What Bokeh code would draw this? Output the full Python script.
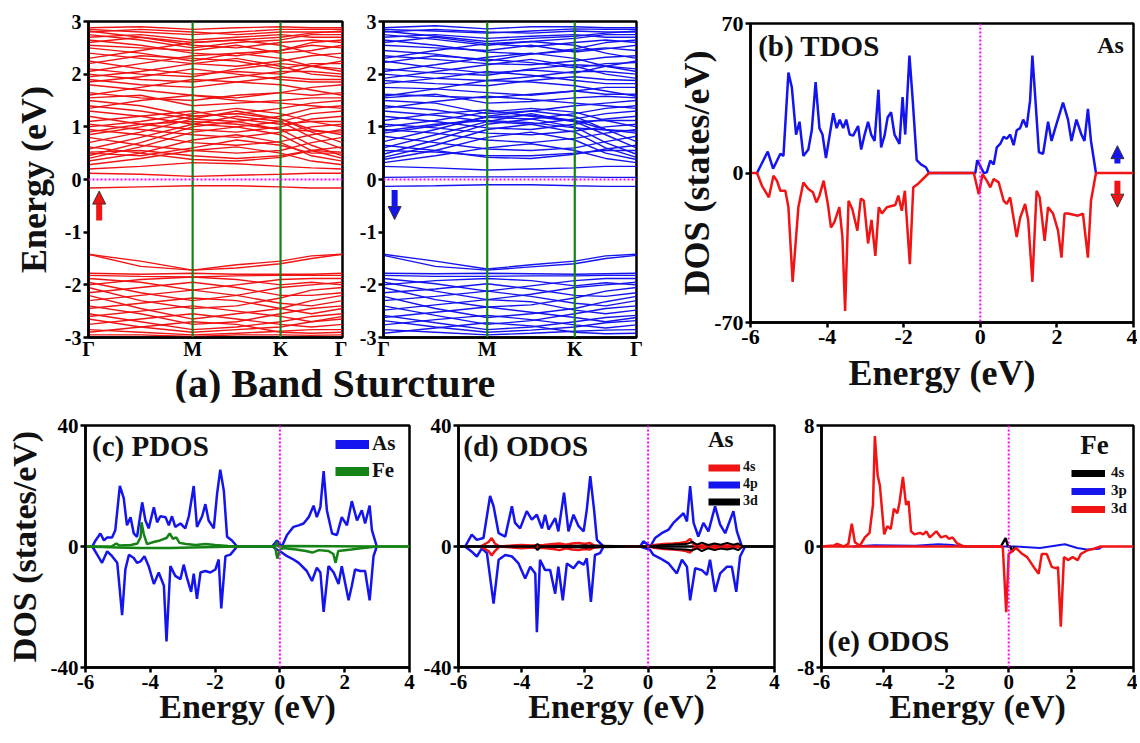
from bokeh.plotting import figure
from bokeh.layouts import row, column
from bokeh.models import (Range1d, FixedTicker, Span, Label, Legend, LegendItem,
                          Arrow, NormalHead, Div, ColumnDataSource)
from bokeh.embed import file_html
from bokeh.resources import INLINE

FONT = "Liberation Serif"
NAN = float("nan")

# ---------------- (a) band structure ----------------
kpath = [0.0, 0.205, 0.41, 0.583, 0.756, 0.878, 1.0]
k_ticks = [0.0, 0.41, 0.756, 1.0]
k_labels = ["Γ", "M", "K", "Γ"]
e_ticks = [-3, -2, -1, 0, 1, 2, 3]
dos_xticks = [-6, -4, -2, 0, 2, 4]

bands_up = [
    [-0.16, -0.14, -0.12, -0.12, -0.14, -0.16, -0.16],
    [0.12, 0.10, 0.06, 0.08, 0.10, 0.12, 0.12],
    [0.20, 0.25, 0.32, 0.30, 0.25, 0.22, 0.20],
    [0.28, 0.40, 0.55, 0.62, 0.50, 0.35, 0.28],
    [0.35, 0.50, 0.75, 0.85, 0.70, 0.45, 0.35],
    [0.40, 0.62, 0.90, 1.00, 0.85, 0.55, 0.40],
    [0.45, 0.70, 1.00, 1.10, 0.95, 0.65, 0.45],
    [0.50, 0.45, 0.60, 0.75, 0.65, 0.50, 0.50],
    [0.52, 0.55, 0.45, 0.40, 0.45, 0.55, 0.52],
    [0.58, 0.80, 1.05, 1.20, 1.10, 0.80, 0.58],
    [0.62, 0.50, 0.38, 0.35, 0.42, 0.55, 0.62],
    [0.70, 0.90, 1.15, 1.30, 1.15, 0.90, 0.70],
    [0.80, 0.65, 0.55, 0.50, 0.55, 0.70, 0.80],
    [0.85, 1.00, 1.20, 1.25, 1.15, 0.95, 0.85],
    [0.90, 1.05, 1.10, 1.05, 0.95, 0.92, 0.90],
    [0.95, 0.85, 0.70, 0.65, 0.72, 0.85, 0.95],
    [1.00, 1.10, 1.25, 1.35, 1.25, 1.10, 1.00],
    [1.05, 0.95, 0.85, 0.80, 0.90, 1.00, 1.05],
    [1.10, 1.20, 1.30, 1.15, 1.05, 1.10, 1.10],
    [1.20, 1.05, 0.95, 0.90, 1.00, 1.15, 1.20],
    [1.30, 1.20, 1.05, 1.00, 1.10, 1.25, 1.30],
    [1.35, 1.50, 1.60, 1.50, 1.45, 1.40, 1.35],
    [1.40, 1.30, 1.15, 1.10, 1.20, 1.35, 1.40],
    [1.50, 1.40, 1.20, 1.25, 1.35, 1.45, 1.50],
    [1.55, 1.60, 1.40, 1.45, 1.50, 1.55, 1.55],
    [1.60, 1.75, 1.90, 1.85, 1.80, 1.70, 1.60],
    [1.65, 1.55, 1.50, 1.60, 1.65, 1.60, 1.65],
    [1.80, 1.70, 1.60, 1.55, 1.65, 1.75, 1.80],
    [1.85, 1.95, 2.10, 2.00, 1.90, 1.85, 1.85],
    [1.90, 1.80, 1.75, 1.85, 1.95, 1.90, 1.90],
    [1.95, 2.05, 2.20, 2.30, 2.15, 2.00, 1.95],
    [2.00, 1.90, 1.85, 1.95, 2.05, 2.05, 2.00],
    [2.05, 2.20, 2.35, 2.40, 2.30, 2.15, 2.05],
    [2.10, 2.00, 1.95, 2.10, 2.20, 2.15, 2.10],
    [2.20, 2.35, 2.30, 2.25, 2.10, 2.20, 2.20],
    [2.25, 2.10, 2.00, 2.05, 2.00, 2.15, 2.25],
    [2.30, 2.45, 2.60, 2.65, 2.55, 2.40, 2.30],
    [2.40, 2.30, 2.20, 2.15, 2.25, 2.35, 2.40],
    [2.50, 2.40, 2.25, 2.40, 2.45, 2.55, 2.50],
    [2.55, 2.50, 2.45, 2.55, 2.40, 2.45, 2.55],
    [2.60, 2.70, 2.55, 2.50, 2.60, 2.65, 2.60],
    [2.65, 2.55, 2.40, 2.35, 2.45, 2.60, 2.65],
    [2.70, 2.75, 2.65, 2.70, 2.75, 2.70, 2.70],
    [2.75, 2.65, 2.50, 2.60, 2.65, 2.75, 2.75],
    [2.80, 2.85, 2.80, 2.75, 2.80, 2.80, 2.80],
    [2.82, 2.70, 2.60, 2.65, 2.70, 2.78, 2.82],
    [2.85, 2.80, 2.75, 2.80, 2.85, 2.85, 2.85],
    [2.88, 2.90, 2.85, 2.88, 2.90, 2.88, 2.88],
    [-1.42, -1.55, -1.72, -1.62, -1.55, -1.45, -1.42],
    [-1.42, -1.65, -1.72, -1.68, -1.60, -1.50, -1.42],
    [-1.78, -1.80, -1.78, -1.80, -1.80, -1.80, -1.78],
    [-1.82, -1.84, -1.85, -1.83, -1.82, -1.82, -1.82],
    [-1.88, -1.95, -2.10, -2.00, -1.90, -1.88, -1.88],
    [-1.95, -2.15, -2.30, -2.20, -2.05, -2.00, -1.95],
    [-2.00, -1.90, -1.85, -1.90, -2.00, -1.95, -2.00],
    [-2.05, -2.30, -2.45, -2.40, -2.25, -2.10, -2.05],
    [-2.15, -2.05, -1.95, -2.05, -2.20, -2.20, -2.15],
    [-2.20, -2.45, -2.65, -2.55, -2.45, -2.30, -2.20],
    [-2.30, -2.20, -2.10, -2.20, -2.35, -2.40, -2.30],
    [-2.40, -2.55, -2.75, -2.70, -2.55, -2.45, -2.40],
    [-2.45, -2.35, -2.25, -2.30, -2.45, -2.55, -2.45],
    [-2.55, -2.70, -2.85, -2.80, -2.70, -2.60, -2.55],
    [-2.60, -2.50, -2.40, -2.50, -2.60, -2.70, -2.60],
    [-2.65, -2.80, -2.90, -2.85, -2.80, -2.70, -2.65],
    [-2.75, -2.65, -2.55, -2.65, -2.75, -2.80, -2.75],
    [-2.85, -2.90, -2.95, -2.92, -2.88, -2.85, -2.85],
    [-2.90, -2.80, -2.70, -2.75, -2.90, -2.92, -2.90],
    [-2.95, -2.95, -2.98, -2.95, -2.95, -2.96, -2.95],
]

bands_dn = [
    [-0.13, -0.12, -0.10, -0.10, -0.12, -0.13, -0.13],
    [0.04, 0.05, 0.05, 0.05, 0.05, 0.04, 0.04],
    [0.25, 0.22, 0.18, 0.20, 0.22, 0.25, 0.25],
    [0.32, 0.45, 0.60, 0.68, 0.55, 0.40, 0.32],
    [0.38, 0.55, 0.80, 0.90, 0.75, 0.50, 0.38],
    [0.42, 0.65, 0.95, 1.05, 0.90, 0.60, 0.42],
    [0.48, 0.75, 1.05, 1.15, 1.00, 0.70, 0.48],
    [0.55, 0.52, 0.45, 0.45, 0.50, 0.55, 0.55],
    [0.60, 0.85, 1.10, 1.25, 1.10, 0.85, 0.60],
    [0.65, 0.55, 0.42, 0.40, 0.48, 0.58, 0.65],
    [0.72, 0.95, 1.20, 1.30, 1.20, 0.95, 0.72],
    [0.82, 0.70, 0.58, 0.55, 0.60, 0.72, 0.82],
    [0.88, 1.02, 1.18, 1.22, 1.12, 0.95, 0.88],
    [0.92, 1.05, 1.12, 1.08, 0.98, 0.94, 0.92],
    [0.95, 0.88, 0.75, 0.70, 0.78, 0.88, 0.95],
    [1.00, 1.12, 1.28, 1.35, 1.28, 1.12, 1.00],
    [1.05, 0.98, 0.88, 0.85, 0.92, 1.00, 1.05],
    [1.12, 1.25, 1.32, 1.20, 1.10, 1.12, 1.12],
    [1.20, 1.10, 0.98, 0.95, 1.05, 1.15, 1.20],
    [1.30, 1.22, 1.10, 1.05, 1.15, 1.25, 1.30],
    [1.35, 1.48, 1.58, 1.52, 1.45, 1.40, 1.35],
    [1.40, 1.32, 1.18, 1.15, 1.25, 1.35, 1.40],
    [1.50, 1.45, 1.25, 1.30, 1.40, 1.45, 1.50],
    [1.55, 1.62, 1.45, 1.48, 1.55, 1.58, 1.55],
    [1.58, 1.72, 1.88, 1.85, 1.78, 1.68, 1.58],
    [1.62, 1.58, 1.55, 1.62, 1.68, 1.62, 1.62],
    [1.75, 1.72, 1.65, 1.60, 1.68, 1.75, 1.75],
    [1.82, 1.92, 2.05, 1.98, 1.88, 1.82, 1.82],
    [1.88, 1.82, 1.78, 1.88, 1.95, 1.90, 1.88],
    [1.92, 2.05, 2.18, 2.28, 2.15, 2.00, 1.92],
    [2.00, 1.92, 1.88, 1.95, 2.05, 2.05, 2.00],
    [2.05, 2.18, 2.32, 2.40, 2.30, 2.15, 2.05],
    [2.10, 2.02, 1.98, 2.10, 2.18, 2.15, 2.10],
    [2.22, 2.35, 2.28, 2.22, 2.12, 2.20, 2.22],
    [2.25, 2.12, 2.02, 2.08, 2.02, 2.15, 2.25],
    [2.30, 2.45, 2.58, 2.62, 2.55, 2.40, 2.30],
    [2.35, 2.28, 2.20, 2.18, 2.25, 2.32, 2.35],
    [2.45, 2.38, 2.25, 2.38, 2.45, 2.50, 2.45],
    [2.55, 2.50, 2.45, 2.55, 2.42, 2.48, 2.55],
    [2.60, 2.70, 2.58, 2.52, 2.60, 2.65, 2.60],
    [2.65, 2.55, 2.42, 2.38, 2.48, 2.60, 2.65],
    [2.70, 2.75, 2.68, 2.72, 2.75, 2.70, 2.70],
    [2.75, 2.66, 2.55, 2.62, 2.68, 2.75, 2.75],
    [2.80, 2.85, 2.80, 2.78, 2.82, 2.80, 2.80],
    [2.82, 2.72, 2.62, 2.68, 2.72, 2.78, 2.82],
    [2.85, 2.82, 2.78, 2.82, 2.86, 2.85, 2.85],
    [2.88, 2.92, 2.86, 2.90, 2.90, 2.88, 2.88],
    [-1.42, -1.55, -1.70, -1.62, -1.55, -1.45, -1.42],
    [-1.44, -1.65, -1.72, -1.66, -1.60, -1.50, -1.44],
    [-1.78, -1.79, -1.78, -1.79, -1.80, -1.79, -1.78],
    [-1.82, -1.84, -1.84, -1.83, -1.83, -1.82, -1.82],
    [-1.88, -1.98, -2.12, -2.02, -1.92, -1.88, -1.88],
    [-1.95, -2.12, -2.28, -2.18, -2.05, -2.00, -1.95],
    [-2.00, -1.92, -1.88, -1.92, -2.02, -1.96, -2.00],
    [-2.05, -2.28, -2.42, -2.38, -2.25, -2.12, -2.05],
    [-2.15, -2.08, -1.98, -2.08, -2.20, -2.22, -2.15],
    [-2.22, -2.45, -2.62, -2.55, -2.45, -2.32, -2.22],
    [-2.30, -2.22, -2.12, -2.22, -2.35, -2.40, -2.30],
    [-2.40, -2.58, -2.75, -2.68, -2.55, -2.45, -2.40],
    [-2.48, -2.38, -2.28, -2.32, -2.48, -2.55, -2.48],
    [-2.58, -2.72, -2.85, -2.80, -2.70, -2.62, -2.58],
    [-2.62, -2.52, -2.42, -2.52, -2.62, -2.70, -2.62],
    [-2.68, -2.80, -2.90, -2.86, -2.80, -2.72, -2.68],
    [-2.76, -2.66, -2.58, -2.66, -2.76, -2.82, -2.76],
    [-2.85, -2.90, -2.95, -2.92, -2.88, -2.86, -2.85],
    [-2.92, -2.82, -2.72, -2.78, -2.90, -2.93, -2.92],
]

# ---------------- (b) TDOS ----------------
tdos_up_e = [-5.83, -5.55, -5.41, -5.22, -5.14, -5.01, -4.92, -4.81, -4.72, -4.62, -4.49, -4.40,
             -4.30, -4.20, -4.12, -4.03, -3.94, -3.84, -3.75, -3.67, -3.58, -3.50, -3.41, -3.32,
             -3.19, -3.11, -3.02, -2.93, -2.85, -2.76, -2.66, -2.59, -2.50, -2.42, -2.33, -2.24,
             -2.11, -2.03, -1.96, -1.85, -1.77, -1.66, -1.55, -1.42, -1.34, -0.13, -0.08, 0.09,
             0.17, 0.26, 0.35, 0.43, 0.52, 0.61, 0.69, 0.78, 0.87, 0.95, 1.04, 1.12, 1.21, 1.30,
             1.36, 1.44, 1.53, 1.64, 1.77, 1.86, 1.99, 2.16, 2.29, 2.38, 2.51, 2.64, 2.72, 2.81,
             2.89, 3.02]
tdos_up = [0, 10, 2, 9, 8, 47, 40, 18, 24, 8, 11, 20,
           42.6, 21, 18, 7, 17, 28, 21, 25, 21, 25, 18, 17.5,
           22, 11, 18, 24, 18, 15, 39, 12, 17.5, 26, 28.5, 18,
           13.6, 35.5, 18, 55, 35.5, 6, 4, 2.7, 0, 0, 6, 0,
           0.3, 5.8, 4, 12, 13.6, 17, 16, 18, 13, 20, 21, 25, 21.4, 34,
           55, 34, 9.7, 9, 24, 15, 23, 33, 25, 15, 25, 18, 15, 30,
           15, 0]
tdos_dn_e = [-6.0, -5.83, -5.70, -5.52, -5.40, -5.31, -5.22, -5.09, -5.01, -4.90, -4.75, -4.62,
             -4.49, -4.37, -4.28, -4.20, -4.09, -3.98, -3.90, -3.81, -3.68, -3.60, -3.53, -3.44,
             -3.34, -3.21, -3.12, -3.04, -2.93, -2.84, -2.74, -2.65, -2.57, -2.44, -2.22, -2.14,
             -2.05, -1.97, -1.84, -1.75, -1.62, -1.34, -0.17, -0.04, 0.06, 0.17, 0.26, 0.35,
             0.48, 0.61, 0.69, 0.78, 0.95, 1.04, 1.17, 1.25, 1.36, 1.47, 1.55, 1.68, 1.77, 1.90,
             2.03, 2.12, 2.20, 2.29, 2.55, 2.68, 2.81, 2.89, 3.02, 4.0]
tdos_dn = [0, 0, -6, -11.4, -1.3, -3.6, -8.3, -8.3, -16, -51, -16, -4.4,
           -7.5, -9, -13.8, -10.6, -3.6, -14.5, -25.5, -23, -16, -30, -64.6, -13,
           -17, -27, -12, -13, -33, -22, -38.8, -16, -19, -16, -15, -10.6,
           -17.7, -8.3, -42.7, -6.7, -5, 0, 0, -9.9, -0.5, -3.6, -6.7, -2.8,
           -4.4, -13, -14.5, -11.4, -30, -21, -14.5, -22, -51, -8.3, -11.4, -31.8, -16, -19,
           -27, -39.6, -19, -19, -20, -19, -39.6, -13, 0, 0]

# ---------------- (c) PDOS ----------------
as_up_e = [-5.79, -5.69, -5.54, -5.43, -5.33, -5.18, -5.08, -4.94, -4.82, -4.72, -4.61, -4.51,
           -4.41, -4.25, -4.15, -4.05, -3.89, -3.79, -3.69, -3.53, -3.43, -3.33, -3.23, -3.07,
           -2.92, -2.81, -2.66, -2.56, -2.40, -2.30, -2.20, -2.04, -1.94, -1.84, -1.73, -1.63,
           -1.48, -1.32, -0.24, -0.09, 0.06, 0.22, 0.42, 0.58, 0.73, 0.89, 1.04, 1.14, 1.25,
           1.35, 1.45, 1.61, 1.76, 1.91, 2.07, 2.22, 2.38, 2.53, 2.63, 2.77, 2.84, 2.99]
as_up = [0, 2, 4.3, 2, 3, 3, 5.4, 20, 16, 7, 9.7, 4.3,
         3.2, 14.6, 8.6, 6, 13, 8, 10, 9.7, 7, 10, 6.5, 7.6,
         6, 10, 20, 6.5, 10, 14, 8.6, 6, 17.3, 25.4, 18.4, 3.2,
         2, 0, 0, 2, 0, 3.8, 6.5, 7, 7.6, 9.7, 13.5, 9.7, 13,
         24.9, 12, 4.3, 3.8, 9.7, 7, 15, 8.6, 12, 7.6, 13.5, 5.4, 0]
as_dn_e = [-5.79, -5.64, -5.49, -5.33, -5.18, -5.02, -4.87, -4.77, -4.66, -4.51, -4.41, -4.30,
           -4.18, -4.05, -3.89, -3.74, -3.58, -3.50, -3.38, -3.23, -3.07, -2.97, -2.87, -2.74,
           -2.66, -2.56, -2.45, -2.30, -2.15, -1.99, -1.89, -1.81, -1.68, -1.53, -1.32, -0.24,
           -0.09, 0.06, 0.22, 0.42, 0.58, 0.83, 0.99, 1.14, 1.25, 1.35, 1.50, 1.66, 1.81, 1.91,
           2.12, 2.22, 2.32, 2.48, 2.63, 2.77, 2.89, 2.99]
as_dn = [0, -2.7, -5.4, -1.6, -3.2, -5.4, -22.7, -7.6, -2.7, -3.8, -5.4, -4.9,
         -3.2, -6.5, -12.4, -8.6, -13, -31.4, -6.5, -9.7, -10.8, -6, -10.3, -15,
         -9, -17.3, -8.6, -8.1, -8.6, -7.6, -4.3, -20.5, -3.2, -2.7, 0, 0,
         -1, -2, -3.2, -4.3, -5.4, -8.1, -11.4, -7, -8.6, -21.6, -6.5, -8.6, -12.4, -6.5,
         -17.8, -13, -7.6, -8.1, -8.1, -17.8, -3.2, 0]
fe_up_e = [-6.0, -5.2, -5.05, -4.95, -4.6, -4.4, -4.3, -4.27, -4.2, -4.1, -3.9, -3.7, -3.5,
           -3.4, -3.3, -3.2, -3.1, -2.9, -2.6, -2.3, -2.0, -1.6, -1.3, -0.15, -0.1, -0.05,
           0.2, 3.0, 4.0]
fe_up = [0, 0, 1.0, 0.3, 0.5, 1.0, 3, 8, 4, 0.8, 1.5, 2.0, 2.8,
         4.3, 2.5, 3.0, 1.2, 0.8, 0.5, 0.8, 0.5, 0.2, 0, 0, 1.5, 0,
         0.2, 0, 0]
fe_dn_e = [-6.0, -5.0, -4.3, -3.4, -1.3, -0.15, -0.08, 0.0, 0.1, 0.5, 0.8, 1.0, 1.2, 1.5,
           1.65, 1.72, 1.8, 2.2, 2.5, 3.0, 4.0]
fe_dn = [0, -0.3, -0.5, -0.5, 0, 0, -4, -1, -0.5, -1, -1.5, -2, -1.2, -1.5,
         -2.5, -5.4, -1.5, -1, -0.6, 0, 0]

# ---------------- (d) ODOS As ----------------
as4p_up_e = [-5.79, -5.58, -5.42, -5.21, -5.00, -4.89, -4.73, -4.52, -4.31, -4.21, -4.05, -3.84,
             -3.68, -3.52, -3.36, -3.26, -3.15, -2.94, -2.84, -2.66, -2.52, -2.36, -2.20, -2.04,
             -1.94, -1.83, -1.71, -1.62, -1.41, -0.25, -0.15, 0.07, 0.22, 0.43, 0.65, 0.80, 1.12,
             1.23, 1.33, 1.44, 1.59, 1.75, 1.91, 2.12, 2.28, 2.44, 2.70, 2.81, 2.97]
as4p_up = [0, 3.9, 2.2, 2.8, 16.7, 13.3, 4.4, 3.3, 13.3, 7.8, 6, 11.7,
           8.9, 10.5, 6, 10.5, 5.6, 9.4, 5, 17.8, 5, 10.5, 6.7, 5,
           12.2, 23.3, 12.2, 2.2, 0, 0, 1.7, 0, 2.8, 4.4, 5.6, 7.8, 11,
           8.3, 20, 7.8, 3.3, 7.8, 5, 13.3, 7.2, 4.4, 11.7, 5, 0]
as4p_dn_e = [-5.79, -5.58, -5.42, -5.26, -5.10, -4.89, -4.73, -4.52, -4.31, -4.10, -3.89, -3.73,
             -3.57, -3.52, -3.42, -3.26, -3.10, -2.94, -2.84, -2.70, -2.57, -2.36, -2.20, -2.04,
             -1.94, -1.81, -1.68, -1.52, -1.41, -0.25, 0.06, 0.17, 0.38, 0.65, 0.91, 1.07, 1.23,
             1.33, 1.49, 1.70, 1.86, 1.96, 2.12, 2.28, 2.49, 2.65, 2.79, 2.91, 3.07]
as4p_dn = [0, -1.7, -3.3, -0.6, -2.2, -18.9, -4.4, -2.8, -3.3, -5.6, -10.6, -6.7,
           -8.9, -28.3, -4.4, -7.8, -7.8, -15.6, -6.7, -17.8, -5.6, -7.2, -5, -6,
           -3.9, -18.3, -2.8, -2.2, 0, 0, -1.1, -2.8, -3.9, -5.6, -8.9, -4.4, -6.7,
           -17.8, -7.2, -7.8, -9.4, -4.4, -15, -8.9, -6.7, -6.7, -15, -3.3, 0]
as4s_e = [-5.3, -5.05, -4.95, -4.85, -4.7, -4.3, -4.0, -3.7, -3.3, -3.0, -2.8, -2.6, -2.4,
          -2.2, -2.0, -1.85, -1.7, -1.4, 0.0, 0.2, 0.5, 0.8, 1.0, 1.2, 1.33, 1.45, 1.8,
          2.2, 2.8, 3.0]
as4s_up = [0, 1.5, 2.8, 1.0, 0, 0.3, 0.5, 0.3, 0.5, 0.8, 1.0, 0.6, 1.0,
           1.2, 0.8, 1.2, 0.3, 0, 0, 0.5, 0.8, 1.0, 1.2, 1.5, 2.5, 0.5, 0.3,
           0.4, 0.3, 0]
as4s_dn = [0, -1.5, -3.0, -1.5, 0, -0.3, -0.6, -0.3, -0.5, -0.8, -1.2, -0.6, -1.0,
           -1.2, -0.8, -1.0, -0.3, 0, 0, -0.4, -0.8, -1.0, -1.2, -1.5, -2.0, -0.5, -0.3,
           -0.4, -0.3, 0]
as3d_e = [-6.0, -3.6, -3.5, -3.4, -2.0, 0.0, 0.4, 0.8, 1.2, 1.4, 1.55, 1.7, 1.9, 2.1, 2.3,
          2.5, 2.7, 2.85, 3.0, 4.0]
as3d_up = [0, 0, 0.8, 0, 0.3, 0, 0.4, 0.7, 0.8, 1.5, 0.6, 1.3, 0.5, 1.0, 0.6,
           1.2, 0.6, 1.0, 0, 0]
as3d_dn = [0, 0, -1.2, 0, -0.3, 0, -0.5, -0.8, -1.0, -1.3, -0.6, -1.5, -0.6, -1.2, -0.7,
           -1.0, -0.6, -1.2, 0, 0]

# ---------------- (e) ODOS Fe ----------------
fe3d_up_e = [-6.0, -5.60, -5.50, -5.29, -5.14, -5.03, -4.93, -4.77, -4.61, -4.46, -4.35, -4.29,
             -4.20, -4.13, -3.99, -3.89, -3.78, -3.68, -3.57, -3.50, -3.39, -3.29, -3.21, -3.13,
             -3.02, -2.84, -2.74, -2.64, -2.53, -2.32, -2.17, -2.01, -1.91, -1.80, -1.65, -1.44,
             -0.19]
fe3d_up = [0, 0.07, 0.17, 0, 0.17, 1.5, 0.28, 0.05, 0.6, 0.9, 2.76, 7.3,
           4.7, 4.05, 0.8, 1.35, 1.15, 2.5, 2.2, 2.9, 4.6, 2.75, 3.0, 1.0,
           0.8, 0.9, 0.8, 1.0, 0.6, 1.0, 0.6, 0.7, 0.5, 0.6, 0.2, 0,
           0]
fe3d_dn_e = [-0.19, -0.08, 0.0, 0.23, 0.44, 0.59, 0.80, 0.96, 1.06, 1.22, 1.38, 1.53, 1.58,
             1.67, 1.77, 1.90, 2.05, 2.21, 2.31, 2.52, 2.73, 2.94, 4.0]
fe3d_dn = [0, -4.35, -0.5, -0.1, -0.5, -0.7, -1.35, -1.8, -0.5, -0.5, -1.35, -1.45, -1.35,
           -5.3, -0.7, -0.9, -0.7, -0.9, -0.5, -0.25, -0.15, 0, 0]
fe4s_e = [-0.25, -0.1, -0.02, 0.05, 0.12, 0.2]
fe4s = [0, 0.55, 0, 0, -0.35, 0]
fe3p_e = [-5.0, -4.3, -3.0, -2.25, -1.8, -1.5, 0.2, 1.0, 1.8, 2.2, 2.5, 2.9, 3.0]
fe3p = [0, 0.08, 0.05, 0.15, 0.1, 0, 0, -0.1, 0.15, -0.1, -0.2, -0.15, 0]

# ---------------- styling helpers ----------------
RED = "#f01414"
BLUE = "#1414ee"
GREEN = "#148214"
MAG = "#ff00ff"


def ascii_labels(ticks):
    return {t: str(t) for t in ticks}


def style(p, tick_size, label_size):
    p.outline_line_color = "black"
    p.outline_line_width = 2.5
    p.outline_line_alpha = 1.0
    p.xgrid.visible = False
    p.ygrid.visible = False
    p.background_fill_color = "white"
    p.border_fill_color = "white"
    for ax in (p.xaxis[0], p.yaxis[0]):
        ax.axis_line_width = 2.5
        ax.axis_line_color = "black"
        ax.major_tick_line_width = 2.5
        ax.major_tick_in = 0
        ax.major_tick_out = 5
        ax.minor_tick_line_color = None
        ax.major_label_text_font = FONT
        ax.major_label_text_font_style = "bold"
        ax.major_label_text_font_size = tick_size
        ax.major_label_text_color = "black"
        ax.major_label_standoff = 2
        ax.axis_label_text_font = FONT
        ax.axis_label_text_font_style = "bold"
        ax.axis_label_text_font_size = label_size
        ax.axis_label_text_color = "#111111"


def add_label(p, x, y, text, size, align="left", baseline="top"):
    p.add_layout(Label(x=x, y=y, text=text, text_font=FONT, text_font_style="bold",
                       text_font_size=size, text_align=align, text_baseline=baseline,
                       text_color="#111111"))


def band_fig(bands, color, width, height, bl, br, bt, bb, ylabel):
    p = figure(width=width, height=height, output_backend="svg", toolbar_location=None,
               x_range=Range1d(0, 1), y_range=Range1d(-3, 3),
               min_border_left=bl, min_border_right=br, min_border_top=bt, min_border_bottom=bb)
    style(p, "20px", "36px")
    p.multi_line(xs=[kpath] * len(bands), ys=bands, line_color=color, line_width=1.4)
    for k in k_ticks[1:3]:
        p.add_layout(Span(location=k, dimension="height", line_color=GREEN, line_width=2.2))
    p.add_layout(Span(location=0, dimension="width", line_color=MAG, line_width=2,
                      line_dash="2 2"))
    p.xaxis.ticker = FixedTicker(ticks=k_ticks)
    p.xaxis.major_label_overrides = {k: lab for k, lab in zip(k_ticks, k_labels)}
    p.xaxis.major_tick_out = 0
    p.xaxis.major_label_standoff = 0
    p.yaxis.ticker = FixedTicker(ticks=e_ticks)
    p.yaxis.major_label_overrides = ascii_labels(e_ticks)
    if ylabel:
        p.yaxis.axis_label = ylabel
        p.yaxis.axis_label_standoff = 8
    return p


def dos_fig(width, height, bl, br, bt, bb, ylim, tick_size, ylabel, label_size):
    p = figure(width=width, height=height, output_backend="svg", toolbar_location=None,
               x_range=Range1d(-6, 4), y_range=Range1d(-ylim, ylim),
               min_border_left=bl, min_border_right=br, min_border_top=bt, min_border_bottom=bb)
    style(p, tick_size, label_size)
    p.xaxis.ticker = FixedTicker(ticks=dos_xticks)
    p.xaxis.major_label_overrides = ascii_labels(dos_xticks)
    yt = [-ylim, 0, ylim]
    p.yaxis.ticker = FixedTicker(ticks=yt)
    p.yaxis.major_label_overrides = ascii_labels(yt)
    p.xaxis.axis_label = "Energy (eV)"
    p.xaxis.axis_label_standoff = -4
    if ylabel:
        p.yaxis.axis_label = ylabel
        p.yaxis.axis_label_standoff = 0
    p.add_layout(Span(location=0, dimension="height", line_color=MAG, line_width=2,
                      line_dash="2 2"))
    return p


def block_arrow(p, x, y0, y1, color):
    p.add_layout(Arrow(end=NormalHead(size=13, fill_color=color, line_color="#333333",
                                      line_width=1),
                       x_start=x, y_start=y0, x_end=x, y_end=y1,
                       line_color=color, line_width=6))


def proxy(p, color, lw):
    return p.line("x", "y", source=ColumnDataSource(dict(x=[NAN], y=[NAN])),
                  line_color=color, line_width=lw)


def make_legend(items, size, gw, gh, spacing, standoff):
    return Legend(items=[LegendItem(label=l, renderers=[r]) for l, r in items],
                  glyph_width=gw, glyph_height=gh, spacing=spacing, padding=0, margin=0,
                  label_standoff=standoff, label_text_font=FONT, label_text_font_style="bold",
                  label_text_font_size=size, label_text_color="#111111",
                  label_height=gh, border_line_alpha=0, background_fill_alpha=0)


# ---------------- (a) ----------------
pa1 = band_fig(bands_up, RED, 347, 364, 88, 5, 21, 24, "Energy (eV)")
block_arrow(pa1, 0.042, -0.78, -0.22, RED)
pa2 = band_fig(bands_dn, BLUE, 299, 364, 36, 10, 19, 27, None)
block_arrow(pa2, 0.044, -0.2, -0.76, BLUE)

title_div = Div(text=('<div style="font-family:\'Liberation Serif\';font-weight:bold;'
                      'font-size:40px;line-height:40px;text-align:center;width:646px;'
                      'padding-left:24px;box-sizing:border-box;color:#111;">'
                      '(a) Band Sturcture</div>'),
                width=646, height=38, margin=(0, 0, 0, 0))

# ---------------- (b) ----------------
pb = dos_fig(491, 402, 104, 4, 23, 80, 70, "22px", "DOS (states/eV)", "36px")
pb.xaxis.axis_label_standoff = 6
pb.yaxis.axis_label_standoff = -6
pb.line(tdos_up_e, tdos_up, line_color=BLUE, line_width=2.5)
pb.line(tdos_dn_e, tdos_dn, line_color=RED, line_width=2.5)
add_label(pb, -5.8, 67, "(b) TDOS", "29px")
add_label(pb, 3.75, 66, "As", "24px", align="right")
block_arrow(pb, 3.58, 4.4, 12.8, BLUE)
block_arrow(pb, 3.58, -3.6, -16, RED)

# ---------------- (c) ----------------
pc = dos_fig(417, 339, 85, 8, 21, 74, 40, "21px", "DOS (states/eV)", "34px")
pc.yaxis.axis_label_standoff = 5
pc.line(as_up_e, as_up, line_color=BLUE, line_width=2.5)
pc.line(as_dn_e, as_dn, line_color=BLUE, line_width=2.5)
pc.line(fe_up_e, fe_up, line_color=GREEN, line_width=2.5)
pc.line(fe_dn_e, fe_dn, line_color=GREEN, line_width=2.5)
add_label(pc, -5.8, 38.5, "(c) PDOS", "29px")
leg_c = make_legend([("As", proxy(pc, BLUE, 9)), ("Fe", proxy(pc, GREEN, 9))],
                    "21px", 34, 22, 2, 3)
leg_c.location = (250, 184)
pc.add_layout(leg_c)

# ---------------- (d) ----------------
pd_ = dos_fig(365, 339, 41, 8, 23, 74, 40, "21px", None, "34px")
pd_.line([-6, 4], [0, 0], line_color="black", line_width=2.5)
pd_.line(as4p_up_e, as4p_up, line_color=BLUE, line_width=2.5)
pd_.line(as4p_dn_e, as4p_dn, line_color=BLUE, line_width=2.5)
pd_.line(as4s_e, as4s_up, line_color=RED, line_width=2.5)
pd_.line(as4s_e, as4s_dn, line_color=RED, line_width=2.5)
pd_.line(as3d_e, as3d_up, line_color="black", line_width=2)
pd_.line(as3d_e, as3d_dn, line_color="black", line_width=2)
add_label(pd_, -5.85, 38.5, "(d) ODOS", "29px")
add_label(pd_, 2.3, 39.5, "As", "23px", align="center")
leg_d = make_legend([("4s", proxy(pd_, RED, 7)), ("4p", proxy(pd_, BLUE, 7)),
                     ("3d", proxy(pd_, "black", 7))], "14px", 32, 15, 1, 3)
leg_d.location = (250, 158)
pd_.add_layout(leg_d)

# ---------------- (e) ----------------
pe = dos_fig(355, 339, 39, 4, 23, 74, 8, "21px", None, "34px")
pe.line(fe3p_e, fe3p, line_color=BLUE, line_width=2)
pe.line(fe4s_e, fe4s, line_color="black", line_width=2.5)
pe.line(fe3d_up_e, fe3d_up, line_color=RED, line_width=2.5)
pe.line(fe3d_dn_e, fe3d_dn, line_color=RED, line_width=2.5)
pe.line([-6, -0.19], [0, 0], line_color=RED, line_width=2.5)
add_label(pe, -5.8, -5.2, "(e) ODOS", "29px")
add_label(pe, 2.75, 7.7, "Fe", "27px", align="center")
leg_e = make_legend([("4s", proxy(pe, "black", 7)), ("3p", proxy(pe, BLUE, 7)),
                     ("3d", proxy(pe, RED, 7))], "15px", 34, 16, 1, 6)
leg_e.location = (250, 150)
pe.add_layout(leg_e)

layout = column(row(column(row(pa1, pa2), title_div), pb), row(pc, pd_, pe))

with open("out.html", "w") as f:
    f.write(file_html(layout, INLINE))
